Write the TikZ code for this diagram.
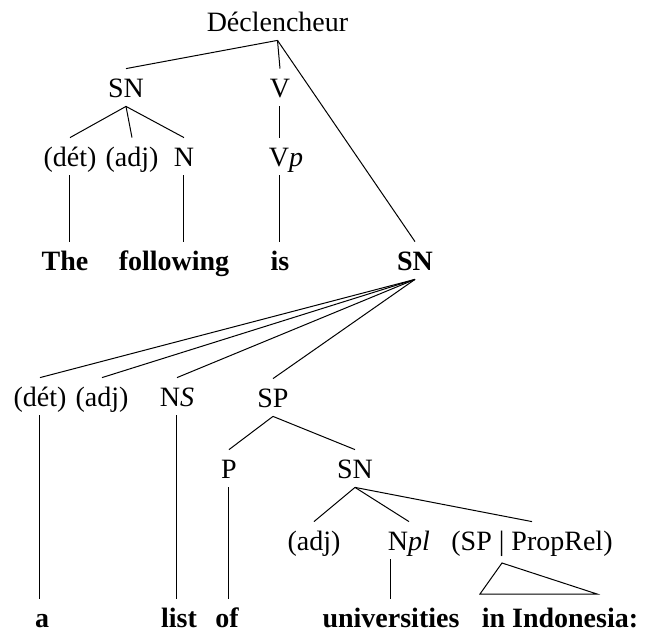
\documentclass[tikz,border=0pt]{standalone}
\usepackage{fontspec}
\setmainfont{Liberation Serif}

\tikzset{
  cat/.style={anchor=base, inner sep=0pt, text height=14pt, text depth=4.5pt,
    font=\fontsize{14}{17}\selectfont},
  word/.style={cat, font=\fontsize{14}{17}\selectfont\bfseries},
  branch/.style={line width=0.5pt}
}

\begin{document}
\begin{tikzpicture}[x=0.5pt, y=-0.5pt]
\useasboundingbox (0,0) rectangle (645,632);
\node[cat] (top) at (277.5,31) {Déclencheur};
\node[cat] (sn1) at (126,97) {SN};
\node[cat] (v) at (280,97) {V};
\node[cat] (det1) at (70,166) {(dét)};
\node[cat] (adj1) at (132,166) {(adj)};
\node[cat] (n1) at (184,166) {N};
\node[cat] (vp) at (286,166) {V\textit{p}};
\node[word] (the) at (65,270) {The};
\node[word] (following) at (174,270) {following};
\node[word] (is) at (280,270) {is};
\node[word] (sn2) at (415,270) {SN};
\node[cat] (det2) at (40,406) {(dét)};
\node[cat] (adj2) at (102,406) {(adj)};
\node[cat] (ns) at (177,406) {N\textit{S}};
\node[cat] (sp) at (273,407) {SP};
\node[cat] (p) at (229,478) {P};
\node[cat] (sn3) at (355,478) {SN};
\node[cat] (adj3) at (314,550) {(adj)};
\node[cat] (npl) at (409,550) {N\textit{pl}};
\node[cat] (rel) at (532,550) {(SP | PropRel)};
\node[word] (a) at (42,627) {a};
\node[word] (list) at (179,627) {list};
\node[word] (of) at (227,627) {of};
\node[word] (univ) at (391,627) {universities};
\node[word] (indo) at (560,627) {in Indonesia:};
\coordinate (tri) at (502,563);
\coordinate (triL) at (480,594);
\coordinate (triR) at (597,594);

\draw[branch] (top.south) -- (sn1.north);
\draw[branch] (top.south) -- (v.north);
\draw[branch] (top.south) -- (sn2.north);
\draw[branch] (sn1.south) -- (det1.north);
\draw[branch] (sn1.south) -- (adj1.north);
\draw[branch] (sn1.south) -- (n1.north);
\draw[branch] (v.south) -- (v.south |- vp.north);
\draw[branch] (det1.south) -- (det1.south |- the.north);
\draw[branch] (n1.south) -- (n1.south |- following.north);
\draw[branch] (vp.south -| is) -- (is.north);
\draw[branch] (sn2.south) -- (det2.north);
\draw[branch] (sn2.south) -- (adj2.north);
\draw[branch] (sn2.south) -- (ns.north);
\draw[branch] (sn2.south) -- (sp.north);
\draw[branch] (det2.south) -- (det2.south |- a.north);
\draw[branch] (ns.south) -- (ns.south |- list.north);
\draw[branch] (sp.south) -- (p.north);
\draw[branch] (sp.south) -- (sn3.north);
\draw[branch] (p.south) -- (p.south |- of.north);
\draw[branch] (sn3.south) -- (adj3.north);
\draw[branch] (sn3.south) -- (npl.north);
\draw[branch] (sn3.south) -- (rel.north);
\draw[branch] (npl.south -| univ) -- (univ.north);
\draw[branch] (tri) -- (triL) -- (triR) -- cycle;
\end{tikzpicture}
\end{document}
